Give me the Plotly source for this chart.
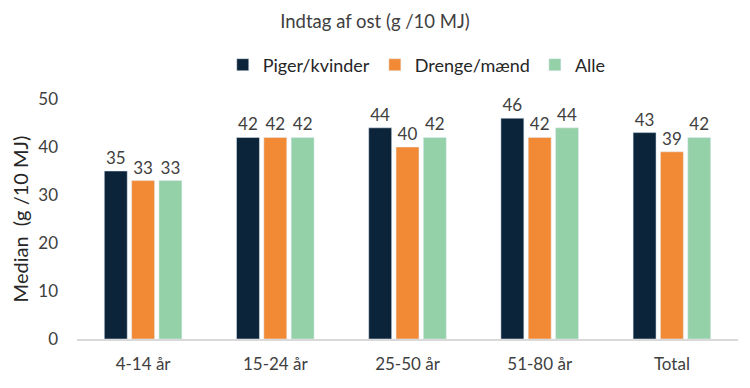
import plotly.graph_objects as go

categories = ["4-14 år", "15-24 år", "25-50 år", "51-80 år", "Total"]
piger = [35, 42, 44, 46, 43]
drenge = [33, 42, 40, 42, 39]
alle = [33, 42, 42, 44, 42]
series = [("Piger/kvinder", piger, "#0b243a"), ("Drenge/mænd", drenge, "#f28a35"), ("Alle", alle, "#94d1a9")]

fig = go.Figure()
for name, vals, col in series:
    fig.add_trace(go.Bar(
        x=categories, y=vals, name=name, marker_color=col,
        text=[str(v) for v in vals], textposition="outside",
        textfont=dict(size=17, color="#404040"), cliponaxis=False,
    ))

# page body has an 8px default margin, so the figure is 8px smaller
fig.update_layout(
    width=742, height=380,
    margin=dict(l=69, r=12, t=91, b=49, autoexpand=False),
    paper_bgcolor="white", plot_bgcolor="white",
    font=dict(family="Lato, sans-serif", color="#404040"),
    title=dict(text="Indtag af ost (g /10 MJ)", x=0.4946, xanchor="center", y=1 - 14 / 380, yanchor="middle",
               font=dict(size=18.5, color="#404040")),
    legend=dict(orientation="h", x=0.514, xanchor="center", y=1 + 34 / 240, yanchor="middle",
                font=dict(size=18, color="#262626"), itemwidth=30, traceorder="normal"),
    bargap=0.38, bargroupgap=0.16,
    xaxis=dict(showline=True, linecolor="#d9d9d9", linewidth=1.5, ticks="",
               ticklabelstandoff=9, automargin=False,
               tickfont=dict(size=17, color="#404040")),
    yaxis=dict(range=[0, 50], dtick=10, showgrid=False, zeroline=False, showline=False,
               ticklabelstandoff=18, automargin=False,
               tickfont=dict(size=17, color="#404040"),
               title=dict(text="Median  (g /10 MJ)", font=dict(size=20, color="#262626"), standoff=20)),
)
fig.write_html("out.html")
